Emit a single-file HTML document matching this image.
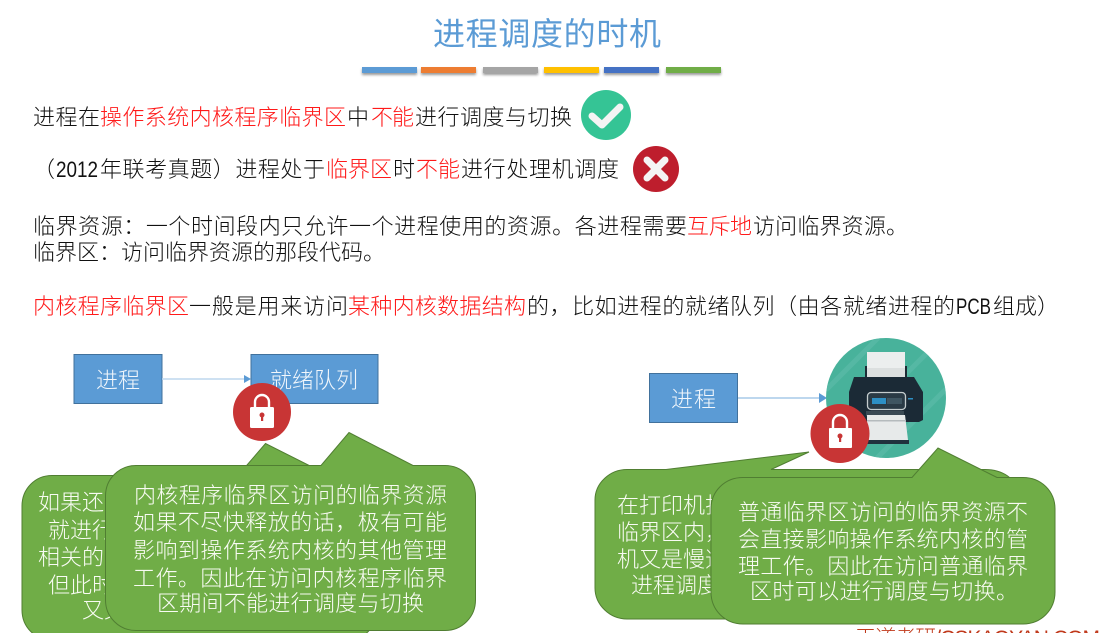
<!DOCTYPE html>
<html><head><meta charset="utf-8"><style>
html,body{margin:0;padding:0;background:#fff;width:1111px;height:633px;overflow:hidden}
svg{display:block}
text{font-family:"Liberation Sans","Noto Sans CJK SC",sans-serif;font-weight:300}
.k{fill:#111;font-size:22px}
.r{fill:#ff1a1a;font-size:22px}
.w{fill:#f8fbf3;font-size:22px}
.b{fill:#f2f7fc;font-size:22px}
</style></head><body>
<svg width="1111" height="633" viewBox="0 0 1111 633" xmlns="http://www.w3.org/2000/svg">
<defs><filter id="s" x="-10%" y="-50%" width="120%" height="250%"><feDropShadow dx="0" dy="2" stdDeviation="1.2" flood-color="#000" flood-opacity=".4"/></filter>
<clipPath id="pc"><circle cx="886" cy="398" r="60"/></clipPath></defs>
<rect width="1111" height="633" fill="#fff"/>
<text x="433" y="45" font-size="32" fill="#5b9bd5" textLength="228" style="font-weight:400">进程调度的时机</text>
<g filter="url(#s)">
<rect x="362" y="67" width="55" height="6" fill="#5b9bd5"/>
<rect x="421" y="67" width="55" height="6" fill="#ed7d31"/>
<rect x="483" y="67" width="55" height="6" fill="#a5a5a5"/>
<rect x="544" y="67" width="55" height="6" fill="#ffc000"/>
<rect x="604" y="67" width="55" height="6" fill="#4472c4"/>
<rect x="666" y="67" width="55" height="6" fill="#70ad47"/>
</g>
<text class="k" x="33" y="125" textLength="67">进程在</text>
<text class="r" x="100" y="125" textLength="246">操作系统内核程序临界区</text>
<text class="k" x="347" y="125">中</text>
<text class="r" x="371" y="125" textLength="43">不能</text>
<text class="k" x="415" y="125" textLength="157">进行调度与切换</text>
<circle cx="606" cy="115" r="25" fill="#35c495"/>
<path d="M592 116l10 9 18-18" fill="none" stroke="#f4f4f4" stroke-width="7" stroke-linecap="round" stroke-linejoin="round"/>
<text class="k" x="33" y="177">（</text>
<text class="k" x="56" y="177" textLength="42" lengthAdjust="spacingAndGlyphs">2012</text>
<text class="k" x="100" y="177" textLength="225">年联考真题）进程处于</text>
<text class="r" x="326" y="177" textLength="66">临界区</text>
<text class="k" x="393" y="177">时</text>
<text class="r" x="416" y="177" textLength="44">不能</text>
<text class="k" x="461" y="177" textLength="158">进行处理机调度</text>
<circle cx="656" cy="169" r="23" fill="#be1e2d"/>
<path d="M647 160l18 18M665 160l-18 18" stroke="#f4f4f4" stroke-width="7" stroke-linecap="round"/>
<text class="k" x="33" y="234" textLength="654">临界资源：一个时间段内只允许一个进程使用的资源。各进程需要</text>
<text class="r" x="687" y="234" textLength="65">互斥地</text>
<text class="k" x="753" y="234" textLength="155">访问临界资源。</text>
<text class="k" x="33" y="260" textLength="352">临界区：访问临界资源的那段代码。</text>
<text class="r" x="33" y="314" textLength="156">内核程序临界区</text>
<text class="k" x="189" y="314" textLength="159">一般是用来访问</text>
<text class="r" x="348" y="314" textLength="178">某种内核数据结构</text>
<text class="k" x="527" y="314" textLength="428">的，比如进程的就绪队列（由各就绪进程的</text>
<text class="k" x="956" y="314" textLength="35" lengthAdjust="spacingAndGlyphs">PCB</text>
<text class="k" x="993" y="314" textLength="66">组成）</text>

<!-- left diagram -->
<rect x="74" y="354.500" width="88" height="49" fill="#5b9bd5" stroke="#41719c"/>
<text class="b" x="96" y="388" textLength="44">进程</text>
<rect x="251" y="354.500" width="127" height="49" fill="#5b9bd5" stroke="#41719c"/>
<text class="b" x="270" y="388" textLength="88">就绪队列</text>
<line x1="162" y1="379" x2="245" y2="379" stroke="#bdd7ee" stroke-width="1.6"/>
<path d="M244 375l7 4-7 4z" fill="#5b9bd5"/>
<circle cx="262" cy="412" r="29" fill="#c83535"/>
<path d="M255 408v-6a7 7 0 0 1 14 0v6" fill="none" stroke="#fff" stroke-width="2.400"/>
<rect x="250" y="407" width="24" height="21" rx="1.500" fill="#fff"/>
<circle cx="262" cy="415" r="2.500" fill="#c83535"/><rect x="261" y="415" width="2.200" height="6" fill="#c83535"/>

<path d="M52 475.500H238L265.500 443.500L329 475.500H347C364 475.500 377 489 377 506V610C377 627 364 640 347 640H52C35 640 22 627 22 610V506C22 489 35 475.500 52 475.500Z" fill="#70ad47" stroke="#507e32"/>
<text class="w" x="38" y="510">如果还没退出</text>
<text class="w" x="48" y="538">就进行进程</text>
<text class="w" x="38" y="565">相关的临界区</text>
<text class="w" x="48" y="593">但此时进程</text>
<text class="w" x="82" y="618">又又又</text>
<path d="M136 465.500H321L349 432.500L413 465.500H445C462 465.500 475.500 479 475.500 496V600C475.500 617 462 630.500 445 630.500H136C119 630.500 105.500 617 105.500 600V496C105.500 479 119 465.500 136 465.500Z" fill="#70ad47" stroke="#507e32"/>
<text class="w" x="134" y="503" textLength="313">内核程序临界区访问的临界资源</text>
<text class="w" x="133" y="530" textLength="314">如果不尽快释放的话，极有可能</text>
<text class="w" x="133" y="558" textLength="314">影响到操作系统内核的其他管理</text>
<text class="w" x="133" y="586" textLength="314">工作。因此在访问内核程序临界</text>
<text class="w" x="157" y="611" textLength="267">区期间不能进行调度与切换</text>

<!-- right diagram -->
<rect x="649.500" y="373.500" width="88" height="49" fill="#5b9bd5" stroke="#41719c"/>
<text class="b" x="671" y="407" textLength="45">进程</text>
<line x1="738" y1="398" x2="820" y2="398" stroke="#bdd7ee" stroke-width="2"/>
<path d="M819 393l8 5-8 5z" fill="#5b9bd5"/>
<circle cx="886" cy="398" r="60" fill="#48b29b"/>
<g clip-path="url(#pc)" stroke="#5fbdaa" stroke-width="5" opacity=".6">
<path d="M826 390l60-60M840 440l100-100M870 465l90-90"/>
</g>
<rect x="865" y="366" width="42" height="16" fill="#1c2b35"/>
<rect x="867" y="352" width="38" height="26" fill="#eceeee"/>
<rect x="867" y="368" width="38" height="10" fill="#dcdfdf"/>
<path d="M854 377H914L923 392V420L919 422H853L849 418V392Z" fill="#1b2a36"/>
<rect x="867.500" y="392.500" width="38" height="17" rx="3.500" fill="#2a3a45" stroke="#c4ccce" stroke-width="1.300"/>
<rect x="872" y="398" width="14" height="6" fill="#2d8fc4"/>
<rect x="887" y="398" width="15" height="6" fill="#3f5561"/>
<rect x="908" y="398" width="5" height="1.500" fill="#2d8fc4"/>
<rect x="866" y="411" width="38" height="5" fill="#3a4a54"/>
<path d="M867 415H905L908 440H867Z" fill="#e7eaea"/>
<rect x="867" y="420" width="39" height="1.500" fill="#b5bbbd"/>
<rect x="862" y="440" width="47" height="4" fill="#20323e"/>
<circle cx="840" cy="433.500" r="29.500" fill="#c83535"/>
<path d="M833 430v-8a7 7 0 0 1 14 0v8" fill="none" stroke="#fff" stroke-width="2.400"/>
<rect x="829" y="428" width="23" height="20" rx="1" fill="#fff"/>
<circle cx="840" cy="436" r="2.500" fill="#c83535"/><rect x="839" y="436" width="2.200" height="6" fill="#c83535"/>

<path d="M627 469.500H666L809 452L771 469.500H985C1001 469.500 1018 478 1018 495V588C1018 605 1005 619 988 619H627C610 619 595 605 595 588V500C595 483 610 469.500 627 469.500Z" fill="#70ad47" stroke="#507e32"/>
<text class="w" x="617" y="513">在打印机打印</text>
<text class="w" x="617" y="540">临界区内，打</text>
<text class="w" x="617" y="567">机又是慢速</text>
<text class="w" x="631" y="593">进程调度切换</text>
<path d="M743 477.500H912L938 448L997 477.500H1023C1041 477.500 1055 491 1055 509V592C1055 610 1041 624 1023 624H743C725 624 711 610 711 592V509C711 491 725 477.500 743 477.500Z" fill="#70ad47" stroke="#507e32"/>
<text class="w" x="738" y="520" textLength="290">普通临界区访问的临界资源不</text>
<text class="w" x="738" y="547" textLength="290">会直接影响操作系统内核的管</text>
<text class="w" x="738" y="574" textLength="290">理工作。因此在访问普通临界</text>
<text class="w" x="750" y="599" textLength="268">区时可以进行调度与切换。</text>
<text x="855" y="645" font-size="21" fill="#c0391b" textLength="245">王道考研/CSKAOYAN.COM</text>
</svg>
</body></html>
